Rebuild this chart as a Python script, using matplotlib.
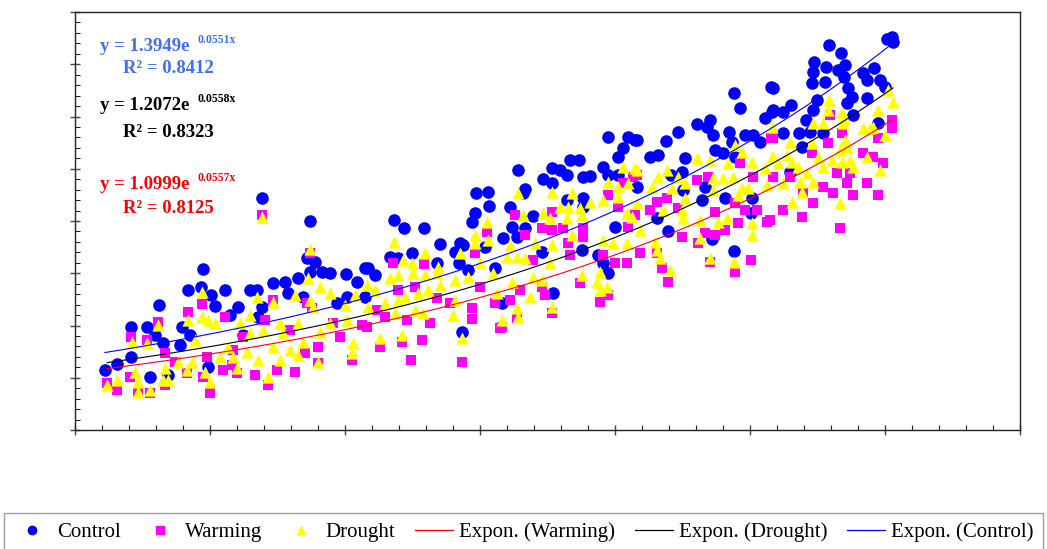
"""
    Control / Warming / Drought scatter with exponential trend lines
"""

import numpy as np
import matplotlib
matplotlib.use("Agg")
import matplotlib.pyplot as plt
from matplotlib.lines import Line2D
from matplotlib.ticker import MultipleLocator, NullFormatter

#####################################################################################################

control_x = [1.11, 1.56, 2.07, 2.67, 3.11, 2.07, 2.78, 4.74, 4.19, 4.67,
             5.04, 5.56, 5.19, 5.74, 2.96, 3.26, 3.89, 3.96, 4.26, 4.93,
             3.44, 6.93, 8.70, 8.59, 8.89, 8.70, 9.15, 9.44, 10.04, 10.74,
             10.44, 7.33, 7.78, 8.26, 6.48, 6.74, 7.89, 8.44, 6.04, 6.93,
             6.78, 10.07, 9.70, 10.74, 6.22, 14.85, 15.30, 15.33, 14.81, 14.70,
             11.81, 12.19, 12.93, 13.52, 14.26, 14.07, 14.37, 14.22, 15.19, 15.85,
             11.67, 11.96, 12.48, 13.41, 10.85, 11.11, 14.33, 14.56, 15.56, 15.81,
             19.74, 20.48, 20.74, 20.30, 20.11, 16.41, 18.33, 18.67, 17.67, 17.96,
             18.22, 17.33, 17.67, 18.81, 19.07, 19.56, 19.74, 20.11, 16.67, 16.59,
             18.22, 18.81, 18.81, 16.11, 16.96, 16.19, 16.67, 16.37, 17.30, 18.78,
             20.00, 19.37, 19.56, 19.74, 17.70, 24.41, 24.63, 25.78, 25.56, 23.04,
             23.52, 23.41, 22.33, 23.63, 24.22, 24.81, 25.11, 25.37, 25.81, 24.33,
             20.81, 21.89, 21.30, 21.59, 22.59, 23.70, 24.00, 24.44, 22.48, 22.07,
             22.52, 20.81, 23.33, 23.22, 24.07, 25.07, 21.56, 21.96, 23.59, 24.41,
             25.04, 30.26, 30.07, 30.30, 27.93, 28.37, 27.37, 27.33, 27.81, 27.30,
             27.78, 28.26, 28.52, 28.48, 28.63, 29.19, 29.59, 29.33, 29.81, 30.00,
             28.78, 28.59, 29.33, 27.48, 27.33, 28.81, 25.85, 25.85, 26.22, 26.52,
             27.07, 26.22, 26.81, 27.22, 27.70, 26.93, 29.74, 26.48]
control_y = [1.15, 1.26, 1.97, 1.97, 2.39, 1.40, 1.01, 3.08, 2.68, 2.74,
             2.58, 2.68, 2.37, 2.20, 1.82, 1.67, 1.63, 1.97, 1.82, 1.21,
             1.05, 4.44, 4.00, 3.29, 3.22, 3.02, 3.02, 3.00, 2.99, 3.10,
             2.83, 2.81, 2.83, 2.91, 2.68, 2.68, 2.62, 2.55, 2.35, 2.35,
             2.16, 2.55, 2.43, 2.55, 1.82, 4.54, 4.56, 4.29, 4.15, 3.98,
             4.02, 3.87, 3.87, 3.56, 3.58, 3.41, 3.54, 3.20, 3.50, 3.67,
             3.31, 3.29, 3.39, 3.20, 3.10, 2.97, 1.88, 3.06, 3.10, 2.43,
             5.61, 5.61, 5.55, 5.40, 5.22, 4.98, 5.17, 5.17, 5.01, 4.98,
             4.88, 4.80, 4.73, 4.84, 4.86, 5.03, 4.88, 4.88, 4.61, 4.54,
             4.40, 4.44, 4.27, 4.27, 4.10, 3.89, 3.87, 3.69, 3.41, 3.44,
             3.89, 3.35, 3.20, 3.00, 2.62, 6.45, 6.16, 6.56, 5.97, 5.86,
             5.93, 5.80, 5.70, 5.65, 5.70, 5.65, 5.65, 5.51, 6.09, 5.51,
             5.55, 5.53, 5.22, 5.26, 5.21, 5.36, 5.30, 5.22, 4.94, 4.88,
             4.59, 4.65, 4.65, 4.40, 4.44, 4.44, 4.06, 3.81, 3.66, 3.43,
             4.15, 7.52, 7.48, 7.43, 7.37, 7.22, 7.04, 6.85, 6.95, 6.64,
             6.66, 6.89, 6.99, 6.76, 6.55, 6.83, 6.93, 6.70, 6.70, 6.56,
             6.37, 6.26, 6.35, 6.32, 6.12, 6.03, 6.55, 6.12, 6.09, 6.22,
             5.93, 5.68, 5.68, 5.70, 5.68, 5.42, 5.88, 4.94]

warming_x = [4.19, 4.70, 2.07, 2.67, 3.07, 1.19, 1.56, 2.33, 2.78, 3.33,
             2.04, 4.15, 5.00, 4.89, 5.48, 5.56, 3.70, 3.33, 4.74, 5.81,
             6.93, 8.70, 7.33, 7.15, 6.00, 6.67, 7.48, 8.15, 9.00, 8.52,
             9.00, 9.81, 10.26, 5.85, 8.59, 9.56, 7.04, 7.96, 10.63, 8.78,
             6.22, 12.44, 14.33, 11.30, 12.11, 12.85, 13.15, 14.70, 14.70, 15.56,
             15.74, 11.78, 12.93, 15.26, 14.81, 11.48, 12.30, 10.81, 13.89, 11.19,
             13.41, 15.00, 12.59, 11.96, 17.67, 17.67, 18.07, 17.30, 18.81, 16.67,
             16.30, 18.26, 18.33, 18.81, 20.67, 20.30, 19.74, 20.11, 20.48, 20.74,
             19.56, 20.00, 20.44, 16.96, 17.30, 16.48, 16.11, 17.67, 16.37, 15.81,
             18.70, 19.44, 19.74, 17.41, 25.78, 24.63, 25.11, 23.04, 23.44, 20.81,
             21.93, 21.56, 22.33, 21.30, 23.70, 24.44, 24.81, 25.26, 25.63, 22.48,
             23.07, 23.70, 24.07, 24.56, 21.56, 21.74, 21.96, 23.52, 24.44, 25.04,
             20.93, 23.33, 30.26, 30.26, 27.96, 28.41, 29.74, 25.85, 27.89, 27.30,
             29.19, 29.93, 29.56, 28.70, 28.22, 26.48, 25.85, 29.33, 27.70, 28.59,
             26.96, 28.07, 28.81, 29.74, 27.33, 26.22, 26.93, 28.33, 25.74]
warming_y = [2.26, 2.41, 1.78, 1.72, 2.07, 0.90, 0.77, 0.71, 0.71, 0.86,
             1.01, 1.09, 0.71, 1.40, 1.15, 2.16, 1.30, 1.47, 1.01, 1.24,
             4.11, 3.39, 2.49, 0.86, 1.09, 1.05, 1.15, 1.11, 1.28, 1.47,
             1.59, 1.78, 1.34, 1.53, 2.43, 2.05, 2.11, 1.91, 2.01, 2.33,
             1.78, 1.34, 1.30, 1.59, 1.68, 1.72, 2.05, 2.12, 2.33, 2.43,
             1.95, 3.20, 3.18, 3.79, 3.39, 2.16, 2.11, 1.97, 2.43, 2.30,
             2.53, 2.74, 2.74, 2.68, 4.17, 3.83, 3.87, 3.87, 3.87, 3.73,
             4.11, 3.58, 3.35, 3.69, 4.84, 4.73, 4.50, 4.27, 3.89, 4.11,
             3.35, 3.20, 3.20, 3.25, 2.74, 2.68, 2.49, 2.24, 2.14, 1.97,
             2.81, 2.45, 2.58, 2.58, 5.59, 5.11, 4.84, 4.78, 4.84, 4.88,
             4.44, 4.36, 4.25, 4.21, 4.17, 4.34, 4.21, 4.21, 3.98, 3.69,
             3.58, 3.73, 3.83, 3.96, 3.39, 3.10, 2.83, 3.22, 3.02, 3.25,
             3.39, 3.77, 5.93, 5.78, 6.03, 5.68, 5.59, 5.59, 5.49, 5.30,
             5.30, 5.11, 5.22, 4.92, 4.92, 4.84, 4.84, 4.73, 4.65, 4.73,
             4.54, 4.54, 4.50, 4.50, 4.34, 4.21, 4.08, 3.87, 4.02]

drought_x = [4.70, 4.19, 3.07, 2.11, 2.67, 4.70, 4.93, 5.19, 4.44, 1.19,
             1.56, 2.33, 2.33, 2.78, 3.26, 3.33, 3.81, 4.33, 4.81, 5.00,
             5.37, 5.67, 4.15, 2.22, 3.44, 6.93, 8.70, 6.74, 7.33, 8.63,
             9.07, 8.15, 8.70, 9.44, 10.37, 10.81, 6.48, 6.11, 7.59, 8.26,
             8.81, 10.00, 6.96, 7.70, 9.44, 10.07, 6.48, 7.33, 8.44, 9.07,
             10.30, 5.85, 6.37, 6.78, 7.59, 8.26, 7.96, 9.00, 7.15, 6.00,
             10.26, 11.81, 12.96, 12.15, 12.48, 13.44, 13.41, 15.26, 14.81, 15.30,
             14.26, 14.81, 15.00, 15.48, 14.56, 14.07, 11.11, 11.67, 11.96, 12.52,
             12.96, 12.70, 13.07, 13.52, 14.07, 11.96, 12.22, 12.59, 12.89, 11.85,
             11.48, 10.85, 14.00, 15.63, 15.81, 11.30, 12.11, 14.33, 20.30, 20.74,
             19.74, 20.48, 20.11, 17.67, 16.41, 18.41, 19.56, 20.11, 17.96, 18.26,
             18.70, 19.07, 17.33, 17.59, 18.22, 16.59, 18.78, 20.44, 20.63, 18.41,
             17.67, 17.04, 16.11, 19.56, 19.93, 20.44, 16.00, 16.37, 16.67, 17.59,
             18.78, 19.44, 16.96, 16.19, 17.30, 19.33, 19.70, 19.44, 16.85, 16.37,
             17.67, 16.41, 24.44, 24.70, 23.04, 23.52, 24.19, 25.07, 25.81, 21.93,
             20.81, 21.59, 22.33, 23.63, 24.00, 24.37, 25.56, 22.59, 21.37, 22.11,
             23.63, 24.70, 24.93, 25.63, 22.59, 24.56, 20.81, 21.78, 22.48, 22.52,
             23.15, 23.81, 24.15, 25.07, 25.07, 20.93, 23.15, 21.48, 21.56, 21.67,
             22.04, 23.52, 24.41, 30.11, 30.30, 27.93, 27.89, 28.41, 29.74, 27.33,
             27.70, 28.48, 28.44, 29.19, 29.44, 29.56, 30.00, 25.81, 26.48, 27.30,
             28.52, 28.59, 25.85, 26.04, 26.56, 26.37, 26.78, 27.52, 27.70, 28.04,
             28.33, 28.41, 28.70, 28.81, 29.33, 29.81, 27.11, 26.85, 27.33, 26.22,
             26.93, 26.56, 28.33]
drought_y = [2.64, 2.11, 2.01, 1.68, 1.67, 2.16, 2.11, 2.05, 1.72, 0.86,
             0.96, 0.92, 0.73, 0.77, 0.96, 1.19, 1.30, 1.30, 1.11, 0.92,
             1.40, 1.59, 1.15, 1.11, 0.96, 4.08, 3.46, 2.55, 2.45, 2.91,
             2.74, 2.58, 2.49, 2.62, 2.58, 2.78, 2.20, 2.05, 2.05, 2.05,
             2.35, 2.39, 1.91, 1.86, 2.05, 2.11, 1.86, 1.59, 1.68, 1.88,
             1.67, 1.40, 1.49, 1.34, 1.34, 1.44, 1.53, 1.30, 1.01, 1.19,
             1.47, 3.60, 3.39, 3.25, 3.20, 3.12, 3.00, 3.98, 3.73, 3.64,
             3.39, 3.58, 3.22, 3.00, 2.93, 2.87, 2.68, 2.91, 2.97, 3.00,
             2.97, 2.62, 2.68, 2.78, 2.49, 2.49, 2.55, 2.30, 2.24, 2.24,
             2.43, 2.35, 2.20, 2.62, 2.11, 1.76, 1.82, 1.76, 5.03, 5.01,
             4.75, 4.73, 4.65, 4.56, 4.54, 4.54, 4.40, 4.46, 4.27, 4.27,
             4.25, 4.36, 4.15, 4.06, 4.06, 4.11, 4.11, 4.15, 4.08, 3.73,
             3.54, 3.58, 3.54, 3.64, 3.58, 3.58, 3.31, 3.31, 3.29, 3.20,
             2.97, 3.02, 2.93, 2.83, 2.87, 2.83, 2.74, 2.68, 2.55, 2.33,
             2.35, 2.16, 5.45, 5.32, 5.21, 5.17, 5.11, 5.13, 5.22, 4.98,
             4.98, 4.84, 4.84, 4.82, 4.82, 4.84, 5.01, 4.73, 4.65, 4.63,
             4.59, 4.63, 4.63, 4.69, 4.44, 4.50, 4.34, 4.21, 4.21, 4.06,
             4.02, 3.98, 4.06, 3.96, 3.73, 3.83, 3.67, 3.60, 3.44, 3.29,
             3.06, 3.29, 3.22, 6.51, 6.28, 6.32, 6.12, 6.09, 6.12, 5.88,
             5.88, 5.97, 5.88, 5.78, 5.78, 5.80, 5.65, 5.80, 5.51, 5.49,
             5.55, 5.42, 5.22, 5.11, 5.13, 5.26, 5.03, 5.22, 5.03, 5.17,
             5.36, 5.13, 5.17, 5.03, 5.22, 4.98, 4.92, 4.75, 4.75, 4.73,
             4.56, 4.36, 4.34]

# exponential fits y = a * exp(b * x), with R^2
fit_control = (1.3949, 0.0551, 0.8412)
fit_drought = (1.2072, 0.0558, 0.8323)
fit_warming = (1.0999, 0.0557, 0.8125)

#####################################################################################################

plt.rcParams["font.family"] = ["Liberation Serif", "DejaVu Serif"]

fig = plt.figure(figsize=(10.47, 5.49), dpi=100)
ax = fig.add_axes([75 / 1047, 1 - 430 / 549, 945 / 1047, 418 / 549])

ax.scatter(control_x, control_y, s=82, marker="o", color="#0000FF", linewidths=0, zorder=3)
ax.scatter(warming_x, warming_y, s=62, marker="s", color="#FF00FF", linewidths=0, zorder=4)
ax.scatter(drought_x, drought_y, s=78, marker="^", color="#FFFF00", linewidths=0, zorder=5)

# trend lines from the fitted equations, drawn through the sorted x of each series
for xs, fit, col in [(warming_x, fit_warming, "#FF0000"),
                     (drought_x, fit_drought, "#000000"),
                     (control_x, fit_control, "#0000FF")]:
    xx = np.sort(np.array(xs))
    ax.plot(xx, fit[0] * np.exp(fit[1] * xx), color=col, lw=0.8, zorder=6)

ax.set_xlim(0, 35)
ax.set_ylim(0, 8)
ax.xaxis.set_major_locator(MultipleLocator(5))
ax.xaxis.set_minor_locator(MultipleLocator(1))
ax.yaxis.set_major_locator(MultipleLocator(1))
ax.yaxis.set_minor_locator(MultipleLocator(0.2))
ax.xaxis.set_major_formatter(NullFormatter())
ax.yaxis.set_major_formatter(NullFormatter())
ax.tick_params(which="major", direction="inout", length=7, width=1, color="#444444")
ax.tick_params(which="minor", direction="in", length=3.5, width=0.8, color="#222222")
for sp in ax.spines.values():
    sp.set_linewidth(1.0)
    sp.set_color("#222222")

# equation labels
eqs = [(fit_control, "#3F6FF5", 0.918, 0.864),
       (fit_drought, "#000000", 0.777, 0.711),
       (fit_warming, "#FF0000", 0.588, 0.531)]
for fit, col, yeq, yr in eqs:
    ax.text(0.0265, yeq, "y = {:.4f}e".format(fit[0]), transform=ax.transAxes, color=col,
            fontsize=13.5, fontweight="bold", va="center", ha="left")
    ax.text(0.130, yeq + 0.014, "{:.4f}x".format(fit[1]), transform=ax.transAxes, color=col,
            fontsize=8.5, fontweight="bold", va="center", ha="left")
    ax.text(0.0508, yr, "R\u00b2 = {:.4f}".format(fit[2]), transform=ax.transAxes, color=col,
            fontsize=13.5, fontweight="bold", va="center", ha="left")

handles = [
    Line2D([], [], ls="", marker="o", color="#0000FF", markersize=6),
    Line2D([], [], ls="", marker="s", color="#FF00FF", markersize=6),
    Line2D([], [], ls="", marker="^", color="#FFFF00", markersize=6),
    Line2D([], [], color="#FF0000", lw=0.9),
    Line2D([], [], color="#000000", lw=0.9),
    Line2D([], [], color="#0000FF", lw=0.9),
]
labels = ["Control", "Warming", "Drought", "Expon. (Warming)", "Expon. (Drought)", "Expon. (Control)"]
leg = fig.legend(handles, labels, loc="upper left", bbox_to_anchor=(0.004, 0.0, 0.992, 1 - 513 / 549),
                 mode="expand", ncol=6, fontsize=15, frameon=True, fancybox=False,
                 edgecolor="#888888", handlelength=1.8, handletextpad=0.3, borderaxespad=0,
                 borderpad=0.45, columnspacing=0.5)
leg.get_frame().set_linewidth(1.0)

fig.savefig("out.png", dpi=100)
